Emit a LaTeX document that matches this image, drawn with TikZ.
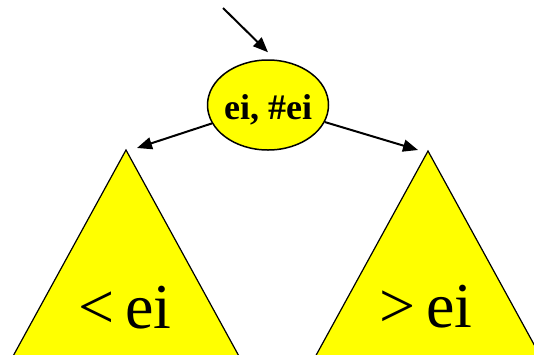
\documentclass[tikz,border=0pt]{standalone}
\usepackage{fontspec}
\setmainfont{Liberation Serif}
\usetikzlibrary{shapes.geometric,arrows.meta,calc}
\definecolor{yel}{RGB}{255,255,0}
\tikzset{
  tri/.style={draw=black,fill=yel,line width=1.2pt,line join=miter},
  arr/.style={draw=black,line width=2pt,-{Triangle[length=15pt,width=12pt]}},
  lab/.style={font=\fontsize{64}{64}\selectfont,anchor=base,inner sep=0pt},
}
\begin{document}
\begin{tikzpicture}[x=1pt,y=-1pt]
\useasboundingbox (0,0) rectangle (534,354);
\clip (0,0) rectangle (534,354);
% triangles
\coordinate (la) at (126,150);
\coordinate (ra) at (428,151);
\draw[tri] (la) -- ++(-137,250) -- ++(274,0) -- cycle;
\draw[tri] (ra) -- ++(-137,250) -- ++(274,0) -- cycle;
\node[lab] (lt) at (125,328) {<\,ei};
\node[lab] (rt) at (426,327) {>\,ei};
% root
\node[ellipse,draw=black,line width=1.5pt,fill=yel,minimum width=121pt,minimum height=90pt,inner sep=0pt] (e) at (268,105) {};
\node[anchor=base,inner sep=0pt,font=\fontsize{36}{36}\selectfont\bfseries] (et) at (268,119) {ei, \#ei};
% connectors
\coordinate (src) at (223,8);
\coordinate (tin) at ($(e.north)+(0,-7)$);
\coordinate (lt1) at (137,148);
\coordinate (rt1) at (418,150);
\draw[arr] (src) -- (tin);
\draw[arr] (e) -- (lt1);
\draw[arr] (e) -- (rt1);
\end{tikzpicture}
\end{document}
